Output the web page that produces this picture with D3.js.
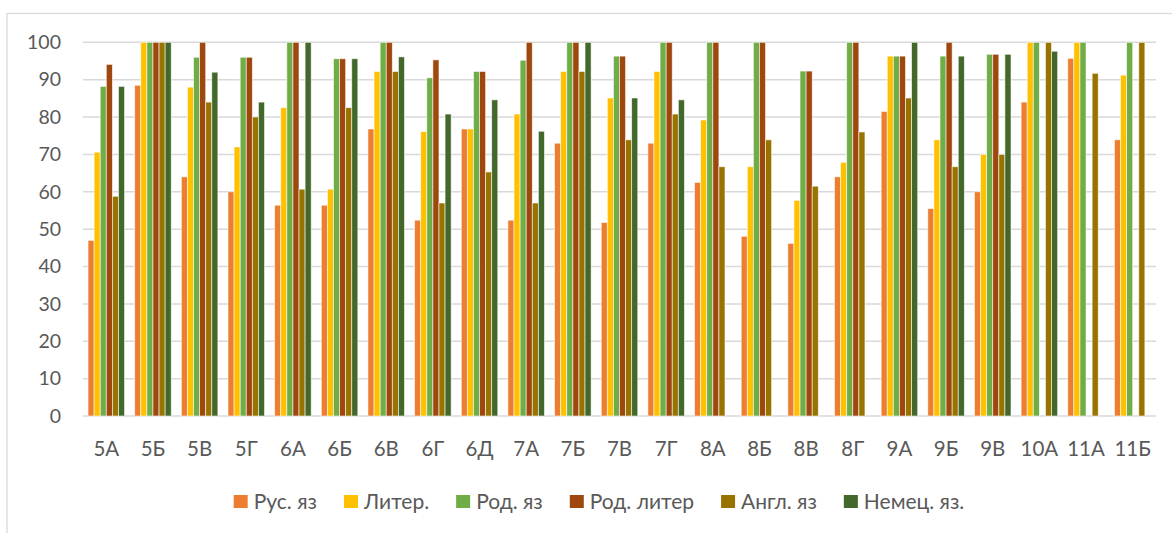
<!DOCTYPE html>
<html>
<head>
<meta charset="utf-8">
<style>
    body { margin: 0; background: #fff; }
    text { font-family: Lato, "Open Sans", sans-serif; fill: #595959; }
</style>
</head>
<body>
<div id="chart"></div>
<script src="https://cdn.jsdelivr.net/npm/d3@7"></script>
<script>
    var width = 1172,
        height = 533;

    // classes along the x axis
    var classes = ['5А', '5Б', '5В', '5Г', '6А', '6Б', '6В', '6Г', '6Д', '7А', '7Б', '7В',
                   '7Г', '8А', '8Б', '8В', '8Г', '9А', '9Б', '9В', '10А', '11А', '11Б'];

    var subjects = ['Рус. яз', 'Литер.', 'Род. яз', 'Род. литер', 'Англ. яз', 'Немец. яз.'];

    // values (null = no bar)
    var rus      = [47, 88.5, 64, 60, 56.4, 56.4, 76.8, 52.4, 76.8, 52.4, 73, 51.8, 73, 62.5, 48.1, 46.2, 64, 81.5, 55.5, 60, 84, 95.7, 73.9];
    var liter    = [70.6, 100, 88, 72, 82.5, 60.7, 92.2, 76.1, 76.8, 80.8, 92.2, 85.1, 92.2, 79.2, 66.7, 57.7, 67.9, 96.3, 73.9, 70, 100, 100, 91.2];
    var rodYaz   = [88.2, 100, 96, 96, 100, 95.6, 100, 90.5, 92.2, 95.2, 100, 96.3, 100, 100, 100, 92.3, 100, 96.3, 96.3, 96.8, 100, 100, 100];
    var rodLiter = [94.1, 100, 100, 96, 100, 95.6, 100, 95.3, 92.2, 100, 100, 96.3, 100, 100, 100, 92.3, 100, 96.3, 100, 96.8, null, null, null];
    var angl     = [58.8, 100, 84, 80, 60.7, 82.5, 92.2, 57, 65.3, 57, 92.2, 73.9, 80.8, 66.7, 73.9, 61.5, 76, 85.1, 66.7, 70, 100, 91.7, 100];
    var nemets   = [88.2, 100, 92, 84, 100, 95.6, 96.1, 80.8, 84.6, 76.2, 100, 85.1, 84.6, null, null, null, null, 100, 96.3, 96.8, 97.6, null, null];

    var yTicks = [0, 10, 20, 30, 40, 50, 60, 70, 80, 90, 100];

    var series = [rus, liter, rodYaz, rodLiter, angl, nemets];

    var clr = d3.scaleOrdinal()
        .domain(subjects)
        .range(['#ED7D31', '#FFC000', '#70AD47', '#9E480E', '#997300', '#43682B']);

    var margin = {left: 83, right: 16, top: 42.3, bottom: 117};

    var svg = d3.select('#chart')
        .append('svg')
        .attr('width', width)
        .attr('height', height);

    // chart frame
    svg.append('rect')
        .attr('x', 7)
        .attr('y', 13.5)
        .attr('width', width + 20)
        .attr('height', height + 20)
        .attr('fill', 'none')
        .attr('stroke', '#D9D9D9')
        .attr('stroke-width', 1.3);

    var x0 = d3.scaleBand()
        .domain(classes)
        .range([margin.left, width - margin.right])
        .paddingInner(0.217)
        .paddingOuter(0.108);

    var x1 = d3.scaleBand()
        .domain(subjects)
        .range([0, x0.bandwidth()]);

    var y = d3.scaleLinear()
        .domain([0, 100])
        .range([height - margin.bottom, margin.top]);

    // gridlines
    svg.append('g')
        .selectAll('line')
        .data(yTicks)
        .enter().append('line')
        .attr('x1', margin.left)
        .attr('x2', width - margin.right)
        .attr('y1', function(d){ return y(d); })
        .attr('y2', function(d){ return y(d); })
        .attr('stroke', '#D9D9D9')
        .attr('stroke-width', 1.5);

    // y labels
    svg.append('g')
        .selectAll('text')
        .data(yTicks)
        .enter().append('text')
        .attr('x', 61)
        .attr('y', function(d){ return y(d); })
        .attr('dy', '0.35em')
        .attr('text-anchor', 'end')
        .attr('font-size', 19.5)
        .text(function(d){ return d; });

    // bars
    var groups = svg.append('g')
        .selectAll('g')
        .data(classes)
        .enter().append('g')
        .attr('transform', function(d){ return 'translate(' + x0(d) + ',0)'; });

    groups.selectAll('rect')
        .data(function(d, i){
            return subjects.map(function(s, j){ return {subject: s, value: series[j][i]}; })
                .filter(function(e){ return e.value != null; });
        })
        .enter().append('rect')
        .attr('x', function(d){ return x1(d.subject); })
        .attr('y', function(d){ return y(d.value); })
        .attr('width', x1.bandwidth())
        .attr('height', function(d){ return y(0) - y(d.value); })
        .attr('fill', function(d){ return clr(d.subject); })
        .attr('stroke', '#fff')
        .attr('stroke-width', 0.8)
        .attr('stroke-opacity', 0.7);

    // x labels
    svg.append('g')
        .selectAll('text')
        .data(classes)
        .enter().append('text')
        .attr('x', function(d){ return x0(d) + x0.bandwidth() / 2; })
        .attr('y', 449)
        .attr('dy', '0.35em')
        .attr('text-anchor', 'middle')
        .attr('font-size', 20.5)
        .text(function(d){ return d; });

    // legend, laid out from measured text widths and centred
    var legend = svg.append('g');
    var items = legend.selectAll('g')
        .data(subjects)
        .enter().append('g');

    items.append('rect')
        .attr('width', 14)
        .attr('height', 13)
        .attr('y', -6.5)
        .attr('fill', function(d){ return clr(d); });

    items.append('text')
        .attr('x', 20)
        .attr('dy', '0.35em')
        .attr('font-size', 21)
        .text(function(d){ return d; });

    var pos = 0, gap = 27;
    items.each(function(){
        var w = 20 + d3.select(this).select('text').node().getComputedTextLength();
        d3.select(this).attr('transform', 'translate(' + pos + ',0)');
        pos += w + gap;
    });
    pos -= gap;
    legend.attr('transform', 'translate(' + (599 - pos / 2) + ',501.5)');
</script>
</body>
</html>
